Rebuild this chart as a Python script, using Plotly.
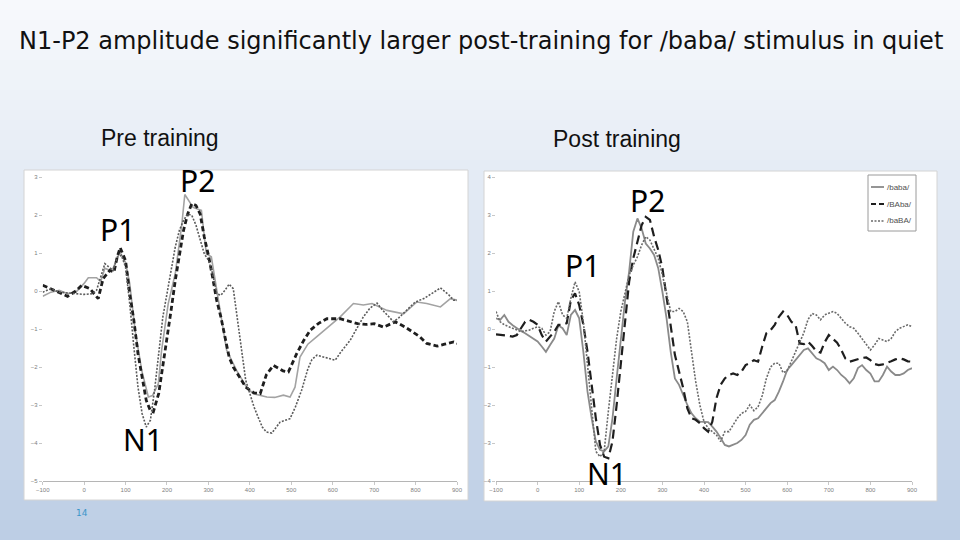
import plotly.graph_objects as go

# ---------------- data ----------------
title_text = "N1-P2 amplitude significantly larger post-training for /baba/ stimulus in quiet"
panel_titles = ["Pre training", "Post training"]
series_names = ["/baba/", "/BAba/", "/baBA/"]
x_ticks = [-100, 0, 100, 200, 300, 400, 500, 600, 700, 800, 900]
y_ticks_pre = [3, 2, 1, 0, -1, -2, -3, -4, -5]
y_ticks_post = [4, 3, 2, 1, 0, -1, -2, -3, -4]

# Pre training
t_pre_baba = [-100, -80, -60, -40, -20, 0, 10, 30, 40, 50, 60, 70, 86, 100, 110, 123, 139, 155, 165, 179,
              187, 203, 220, 236, 243, 263, 283, 295, 307, 328, 344, 368, 392, 408, 441, 460, 481, 497, 509, 521,
              540, 561, 590, 618, 650, 674, 695, 731, 771, 803, 827, 860, 884, 900]
v_pre_baba = [-0.14, -0.03, 0.02, -0.07, -0.03, 0.2, 0.35, 0.35, 0.25, 0.6, 0.55, 0.6, 1.03, 0.75, 0.2, -1.03, -2.09, -2.79, -2.75, -2.44,
              -1.56, -0.33, 0.46, 1.77, 2.54, 2.2, 2.12, 0.98, 0.9, -0.5, -1.56, -2.09, -2.53, -2.7, -2.79, -2.8, -2.74, -2.79, -2.53, -1.74,
              -1.4, -1.21, -0.95, -0.68, -0.33, -0.37, -0.33, -0.51, -0.6, -0.29, -0.33, -0.42, -0.2, -0.24]

t_pre_BAba = [-100, -80, -60, -40, -20, -6, 14, 34, 46, 62, 72, 80, 87, 100, 110, 120, 130, 140, 150, 160,
              167, 180, 190, 200, 210, 220, 230, 240, 250, 260, 270, 280, 290, 300, 310, 320, 330, 340, 350, 360,
              370, 380, 390, 400, 410, 425, 440, 457, 470, 480, 493, 500, 513, 530, 546, 566, 586, 618, 642, 660,
              680, 700, 723, 751, 775, 795, 810, 827, 852, 870, 892, 900]
v_pre_BAba = [0.15, 0.05, -0.05, -0.14, 0.0, 0.15, 0.06, -0.2, 0.33, 0.54, 0.5, 0.9, 1.14, 0.8, -0.07, -0.77, -1.65, -2.26, -2.88, -3.15,
              -3.18, -2.7, -2.0, -1.21, -0.5, 0.28, 0.98, 1.6, 2.03, 2.3, 2.25, 2.03, 1.42, 0.94, 0.37, -0.25, -0.68, -1.21, -1.74, -2.0,
              -2.18, -2.35, -2.53, -2.61, -2.68, -2.7, -2.2, -1.96, -2.05, -2.1, -2.13, -1.95, -1.65, -1.3, -1.03, -0.85, -0.73, -0.73, -0.81, -0.86,
              -0.88, -0.86, -0.95, -0.81, -0.95, -1.08, -1.2, -1.38, -1.45, -1.4, -1.34, -1.38]

t_pre_baBA = [-100, -80, -60, -40, -20, 0, 20, 30, 40, 50, 60, 70, 80, 90, 100, 110, 120, 130, 140, 150,
              160, 170, 180, 190, 200, 210, 220, 230, 240, 250, 260, 270, 280, 290, 300, 310, 320, 330, 340, 350,
              360, 370, 380, 390, 400, 410, 420, 430, 440, 453, 473, 497, 510, 525, 540, 550, 562, 580, 606, 620,
              642, 660, 674, 690, 707, 720, 747, 760, 780, 799, 820, 840, 860, 880, 892, 900]
v_pre_baBA = [-0.03, 0.06, -0.03, -0.05, -0.07, -0.09, -0.07, 0.02, 0.37, 0.72, 0.63, 0.54, 0.89, 0.94, 0.63, -0.33, -1.47, -2.53, -3.23, -3.58,
              -3.4, -2.61, -1.65, -0.68, -0.07, 0.54, 1.16, 1.6, 1.86, 2.03, 1.99, 1.73, 1.33, 0.98, 0.81, 0.46, -0.07, -0.11, 0.02, 0.18,
              0.06, -0.77, -1.65, -2.35, -2.7, -3.05, -3.32, -3.58, -3.71, -3.74, -3.45, -3.36, -3.05, -2.61, -2.05, -1.8, -1.69, -1.74, -1.82, -1.6,
              -1.3, -0.95, -0.68, -0.45, -0.32, -0.5, -0.81, -0.7, -0.5, -0.29, -0.2, -0.05, 0.08, -0.1, -0.24, -0.25]

# Post training (sampled every 10 ms, -100 .. 900)
t_post = list(range(-100, 901, 10))
v_post_baba = [0.28, 0.24, 0.37, 0.19, 0.1, 0.02, -0.05, -0.11, -0.18, -0.25,
               -0.33, -0.46, -0.6, -0.42, -0.25, 0.09, 0.02, -0.16, 0.37, 0.5,
               0.28, -0.6, -1.65, -2.35, -2.96, -3.18, -3.22, -3.09, -2.35, -1.3,
               -0.25, 0.72, 1.51, 2.56, 2.91, 2.65, 2.25, 2.12, 1.95, 1.6,
               0.98, 0.28, -0.6, -1.3, -1.47, -1.74, -2.0, -2.22, -2.35, -2.44,
               -2.44, -2.45, -2.57, -2.7, -2.87, -3.05, -3.09, -3.05, -3.0, -2.92,
               -2.79, -2.52, -2.39, -2.35, -2.22, -2.09, -1.95, -1.87, -1.65, -1.38,
               -1.08, -0.95, -0.82, -0.68, -0.55, -0.51, -0.64, -0.77, -0.82, -0.9,
               -1.08, -0.99, -1.08, -1.21, -1.3, -1.43, -1.3, -1.03, -0.95, -1.08,
               -1.17, -1.38, -1.38, -1.21, -0.99, -1.12, -1.21, -1.21, -1.17, -1.08,
               -1.03]
v_post_BAba = [-0.14, -0.15, -0.16, -0.18, -0.2, -0.16, 0.02, 0.19, 0.24, 0.19,
               0.11, -0.16, -0.33, -0.2, -0.07, 0.11, 0.11, 0.15, 0.76, 0.94,
               0.63, 0.11, -0.6, -1.47, -2.35, -3.05, -3.36, -3.4, -2.96, -2.0,
               -0.86, 0.28, 1.24, 1.86, 2.3, 2.73, 2.95, 2.87, 2.43, 2.08,
               1.6, 0.81, 0.11, -0.68, -1.12, -1.56, -2.09, -2.35, -2.39, -2.48,
               -2.61, -2.7, -2.44, -1.82, -1.47, -1.3, -1.21, -1.17, -1.21, -1.12,
               -0.95, -0.9, -0.82, -0.86, -0.46, -0.11, -0.03, 0.11, 0.32, 0.46,
               0.37, 0.19, 0.11, -0.38, -0.4, -0.33, -0.45, -0.58, -0.62, -0.35,
               -0.16, -0.25, -0.36, -0.55, -0.78, -0.86, -0.82, -0.78, -0.76, -0.75,
               -0.82, -0.92, -0.95, -0.93, -0.9, -0.85, -0.8, -0.77, -0.8, -0.85,
               -0.86]
v_post_baBA = [0.46, 0.19, 0.11, 0.06, 0.02, -0.02, -0.07, -0.05, -0.03, 0.02,
               0.06, 0.02, -0.16, -0.07, 0.46, 0.72, 0.37, 0.28, 0.81, 1.24,
               0.98, 0.19, -0.95, -2.26, -3.22, -3.36, -3.22, -2.17, -1.12, -0.25,
               0.46, 0.98, 1.42, 1.68, 1.9, 2.21, 2.43, 2.34, 2.12, 1.86,
               1.42, 0.98, 0.46, 0.46, 0.54, 0.46, 0.19, -0.6, -1.38, -2.0,
               -2.44, -2.61, -2.7, -2.79, -2.96, -2.7, -2.7, -2.52, -2.35, -2.22,
               -2.17, -2.0, -2.15, -2.05, -1.75, -1.3, -1.0, -0.9, -0.9, -1.15,
               -1.1, -0.85, -0.6, -0.38, -0.1, 0.25, 0.41, 0.37, 0.24, 0.37,
               0.41, 0.46, 0.41, 0.28, 0.15, 0.06, 0.02, -0.11, -0.25, -0.42,
               -0.55, -0.42, -0.25, -0.29, -0.33, -0.25, -0.07, 0.02, 0.06, 0.11,
               0.06]

# peak labels: (text, x in ms, y in uV)
peaks_pre = [("P2", 273, 2.91), ("P1", 81, 1.61), ("N1", 142, -3.92)]
peaks_post = [("P2", 264, 3.37), ("P1", 108, 1.68), ("N1", 168, -3.80)]

# ---------------- figure ----------------
W, H = 960, 540
fig = go.Figure()

styles = [
    dict(color="#a3a3a3", width=1.6, dash="solid"),
    dict(color="#1e1e1e", width=2.8, dash="5px,3px"),
    dict(color="#5a5a5a", width=1.6, dash="2px,1.5px"),
]
styles_post = [
    dict(color="#8a8a8a", width=1.8, dash="solid"),
    dict(color="#1e1e1e", width=2.2, dash="9px,5px"),
    dict(color="#6a6a6a", width=1.6, dash="2px,1.5px"),
]

pre = [(t_pre_baba, v_pre_baba), (t_pre_BAba, v_pre_BAba), (t_pre_baBA, v_pre_baBA)]
post = [(t_post, v_post_baba), (t_post, v_post_BAba), (t_post, v_post_baBA)]

for name, (t, v), st in zip(series_names, pre, styles):
    fig.add_trace(go.Scatter(x=t, y=v, mode="lines", name=name, line=st,
                             xaxis="x", yaxis="y", showlegend=False, hoverinfo="skip"))
for name, (t, v), st in zip(series_names, post, styles_post):
    fig.add_trace(go.Scatter(x=t, y=v, mode="lines", name=name, line=st,
                             xaxis="x2", yaxis="y2", showlegend=False))

# background gradient bands (slide background)
shapes = []
n = 54
c0 = (247, 249, 252)
c1 = (189, 206, 229)
for i in range(n):
    f = i / (n - 1)
    c = tuple(int(round(c0[k] + (c1[k] - c0[k]) * f)) for k in range(3))
    shapes.append(dict(type="rect", xref="paper", yref="paper", x0=-0.01, x1=1.01,
                       y0=1 - (i + 1) / n - 0.002, y1=1 - i / n,
                       fillcolor="rgb(%d,%d,%d)" % c, line=dict(width=0), layer="below"))

def px_rect(x0, y0, x1, y1, fill="white", line="#d4d4d4"):
    return dict(type="rect", xref="paper", yref="paper",
                x0=x0 / W, x1=x1 / W, y0=1 - y1 / H, y1=1 - y0 / H,
                fillcolor=fill, line=dict(color=line, width=1), layer="below")

shapes.append(px_rect(24, 170, 468, 500))
shapes.append(px_rect(484, 171, 937, 501))

# legend box (drawn in the post-training panel, like the original Excel legend)
legend_box = (868, 175, 916, 231)
legend_rows_y = [187, 204, 221]
shapes.append(dict(type="rect", xref="paper", yref="paper",
                   x0=legend_box[0] / W, x1=legend_box[2] / W,
                   y0=1 - legend_box[3] / H, y1=1 - legend_box[1] / H,
                   fillcolor="white", line=dict(color="#9a9a9a", width=1), layer="above"))
for st, ry in zip(styles_post, legend_rows_y):
    lst = dict(st)
    if lst["dash"] == "9px,5px":
        lst["dash"] = "5px,3px"
    shapes.append(dict(type="line", xref="paper", yref="paper",
                       x0=871 / W, x1=884 / W, y0=1 - ry / H, y1=1 - ry / H,
                       line=lst, layer="above"))

axis_common = dict(showgrid=False, zeroline=False, automargin=False,
                   tickfont=dict(size=6, color="#808080", family="Liberation Sans"),
                   ticks="outside", ticklen=3, tickcolor="#c8c8c8")

ydom = [1 - 481 / H, 1 - 177 / H]
fig.update_layout(
    width=W, height=H,
    margin=dict(l=0, r=0, t=0, b=0, pad=0, autoexpand=False),
    paper_bgcolor="rgb(240,244,249)",
    plot_bgcolor="rgba(0,0,0,0)",
    shapes=shapes,
    xaxis=dict(domain=[42.7 / W, 457 / W], range=[-100, 900], tickvals=x_ticks, anchor="y",
               showline=True, linecolor="#b5b5b5", linewidth=1, **axis_common),
    yaxis=dict(domain=ydom, range=[-5, 3], tickvals=y_ticks_pre, anchor="x",
               showline=False, **axis_common),
    xaxis2=dict(domain=[496 / W, 912 / W], range=[-100, 900], tickvals=x_ticks, anchor="y2",
                showline=True, linecolor="#b5b5b5", linewidth=1, **axis_common),
    yaxis2=dict(domain=ydom, range=[-4, 4], tickvals=y_ticks_post, anchor="x2",
                showline=False, **axis_common),
    showlegend=False,
)

ann = []
ann.append(dict(text=title_text, x=481 / W, y=1 - 41 / H, xref="paper", yref="paper",
                showarrow=False, font=dict(family="DejaVu Sans", size=24, color="#111111"),
                xanchor="center", yanchor="middle"))
ann.append(dict(text=panel_titles[0], x=160 / W, y=1 - 138 / H, xref="paper", yref="paper",
                showarrow=False, font=dict(family="Liberation Sans", size=23, color="#111111"),
                xanchor="center", yanchor="middle"))
ann.append(dict(text=panel_titles[1], x=617 / W, y=1 - 139 / H, xref="paper", yref="paper",
                showarrow=False, font=dict(family="Liberation Sans", size=23, color="#111111"),
                xanchor="center", yanchor="middle"))
for txt, x, y in peaks_pre:
    ann.append(dict(text=txt, x=x, y=y, xref="x", yref="y", showarrow=False,
                    font=dict(family="Noto Sans", size=30, color="black"),
                    xanchor="center", yanchor="middle"))
for txt, x, y in peaks_post:
    ann.append(dict(text=txt, x=x, y=y, xref="x2", yref="y2", showarrow=False,
                    font=dict(family="Noto Sans", size=30, color="black"),
                    xanchor="center", yanchor="middle"))
for name, ry in zip(series_names, legend_rows_y):
    ann.append(dict(text=name, x=885 / W, y=1 - ry / H, xref="paper", yref="paper", showarrow=False,
                    font=dict(family="Liberation Sans", size=8, color="#505050"),
                    xanchor="left", yanchor="middle"))
ann.append(dict(text="14", x=82 / W, y=1 - 513 / H, xref="paper", yref="paper", showarrow=False,
                font=dict(family="DejaVu Sans", size=9, color="#3b95c9"),
                xanchor="center", yanchor="middle"))
fig.update_layout(annotations=ann)

post_js = (
    "document.documentElement.style.margin='0';"
    "document.body.style.margin='0';document.body.style.padding='0';"
    "document.body.style.overflow='hidden';"
    "var gd=document.getElementById('{plot_id}');"
    "gd.style.position='fixed';gd.style.left='0px';gd.style.top='0px';"
)
fig.write_html("out.html", config={"displayModeBar": False}, post_script=post_js)
